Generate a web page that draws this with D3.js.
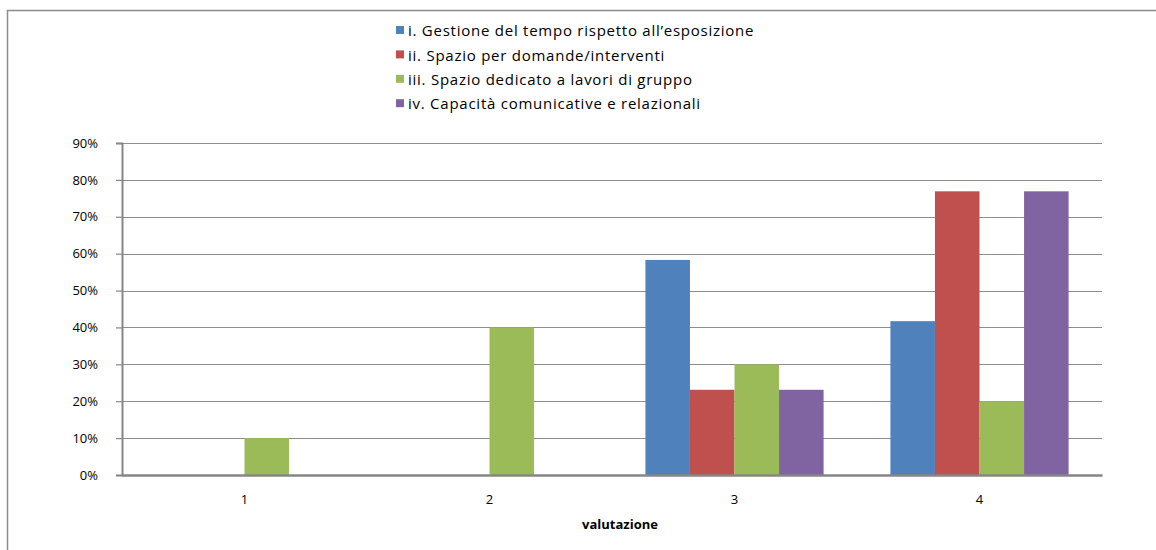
<!DOCTYPE html>
<html>
<head>
<meta charset="utf-8">
<script src="https://cdn.jsdelivr.net/npm/d3@7"></script>
<style>
  html, body { margin: 0; padding: 0; background: #fff; }
  svg { display: block; }
</style>
</head>
<body>
<svg id="chart" width="1156" height="550"></svg>
<script>
// Rating categories on the x axis
const categories = ["1", "2", "3", "4"];

// Series names (legend order)
const seriesNames = [
  "i. Gestione del tempo rispetto all\u2019esposizione",
  "ii. Spazio per domande/interventi",
  "iii. Spazio dedicato a lavori di gruppo",
  "iv. Capacit\u00e0 comunicative e relazionali"
];

// Share of answers per rating, one array per series
const gestioneTempo   = [0, 0, 0.583, 0.417];
const spazioDomande   = [0, 0, 0.231, 0.769];
const lavoriGruppo    = [0.10, 0.40, 0.30, 0.20];
const capacitaComunic = [0, 0, 0.231, 0.769];

const yTicks = [0, 0.1, 0.2, 0.3, 0.4, 0.5, 0.6, 0.7, 0.8, 0.9];
const xTitle = "valutazione";

const seriesValues = [gestioneTempo, spazioDomande, lavoriGruppo, capacitaComunic];
const colors = ["#4f81bd", "#c0504d", "#9bbb59", "#8064a2"];

const svg = d3.select("#chart");
const font = "'Open Sans', 'Liberation Sans', sans-serif";

// Outer chart frame
svg.append("rect")
  .attr("x", 7.5).attr("y", 10.5)
  .attr("width", 1200).attr("height", 600)
  .attr("fill", "#fff")
  .attr("stroke", "#8c8c8c").attr("stroke-width", 1.5);

const plot = { left: 122, right: 1102, top: 143, bottom: 475 };

// One equal slot per rating; each slot holds 4 bars plus a gap of 1.5 bar widths
const x0 = d3.scaleBand()
  .domain(categories)
  .range([plot.left, plot.right])
  .padding(0);
const slot = x0.bandwidth();
const barW = slot / 5.5;
const x1 = d3.scaleBand()
  .domain(d3.range(seriesNames.length))
  .range([0, barW * 4]);

const y = d3.scaleLinear().domain([0, 0.9]).range([plot.bottom, plot.top]);

// Horizontal grid lines
svg.append("g")
  .selectAll("line")
  .data(yTicks.slice(1))
  .join("line")
  .attr("x1", plot.left).attr("x2", plot.right)
  .attr("y1", d => Math.round(y(d)) + 0.5).attr("y2", d => Math.round(y(d)) + 0.5)
  .attr("stroke", "#8c8c8c").attr("stroke-width", 1.2);

// Bars
const groups = svg.append("g")
  .selectAll("g")
  .data(categories)
  .join("g")
  .attr("transform", d => `translate(${x0(d) + (slot - barW * 4) / 2},0)`);

groups.selectAll("rect")
  .data((c, ci) => seriesValues.map((vals, si) => ({ si, v: vals[ci] })))
  .join("rect")
  .filter(d => d.v > 0)
  .attr("x", d => x1(d.si))
  .attr("y", d => y(d.v))
  .attr("width", x1.bandwidth())
  .attr("height", d => y(0) - y(d.v))
  .attr("fill", d => colors[d.si]);

// Y axis
const yAxis = d3.axisLeft(y)
  .tickValues(yTicks)
  .tickFormat(d3.format(".0%"))
  .tickSize(6)
  .tickPadding(18);
const yg = svg.append("g")
  .attr("transform", `translate(${plot.left},0)`)
  .call(yAxis);
yg.select(".domain").attr("stroke", "#868686").attr("stroke-width", 2);
yg.selectAll(".tick line").attr("stroke", "#868686").attr("stroke-width", 1.2);
yg.selectAll(".tick text")
  .attr("fill", "#000")
  .style("font-family", font).style("font-size", "13px");

// X axis
const xAxis = d3.axisBottom(x0).tickSize(0).tickPadding(20);
const xg = svg.append("g")
  .attr("transform", `translate(0,${plot.bottom})`)
  .call(xAxis);
xg.select(".domain").attr("stroke", "#868686").attr("stroke-width", 2.5);
xg.selectAll(".tick text")
  .attr("fill", "#000")
  .style("font-family", font).style("font-size", "13px");

// X axis title
svg.append("text")
  .attr("x", 620).attr("y", 529)
  .attr("text-anchor", "middle")
  .style("font-family", font).style("font-size", "13px").style("font-weight", "bold")
  .text(xTitle);

// Legend
const legend = svg.append("g").attr("transform", "translate(396,31)");
const rows = legend.selectAll("g")
  .data(seriesNames)
  .join("g")
  .attr("transform", (d, i) => `translate(0,${i * 24.4})`);
rows.append("rect")
  .attr("x", 0).attr("y", -5).attr("width", 8).attr("height", 8)
  .attr("fill", (d, i) => colors[i]);
rows.append("text")
  .attr("x", 12).attr("y", 0).attr("dy", "0.35em")
  .style("font-family", font).style("font-size", "15px")
  .style("letter-spacing", "0.75px")
  .text(d => d);
</script>
</body>
</html>
